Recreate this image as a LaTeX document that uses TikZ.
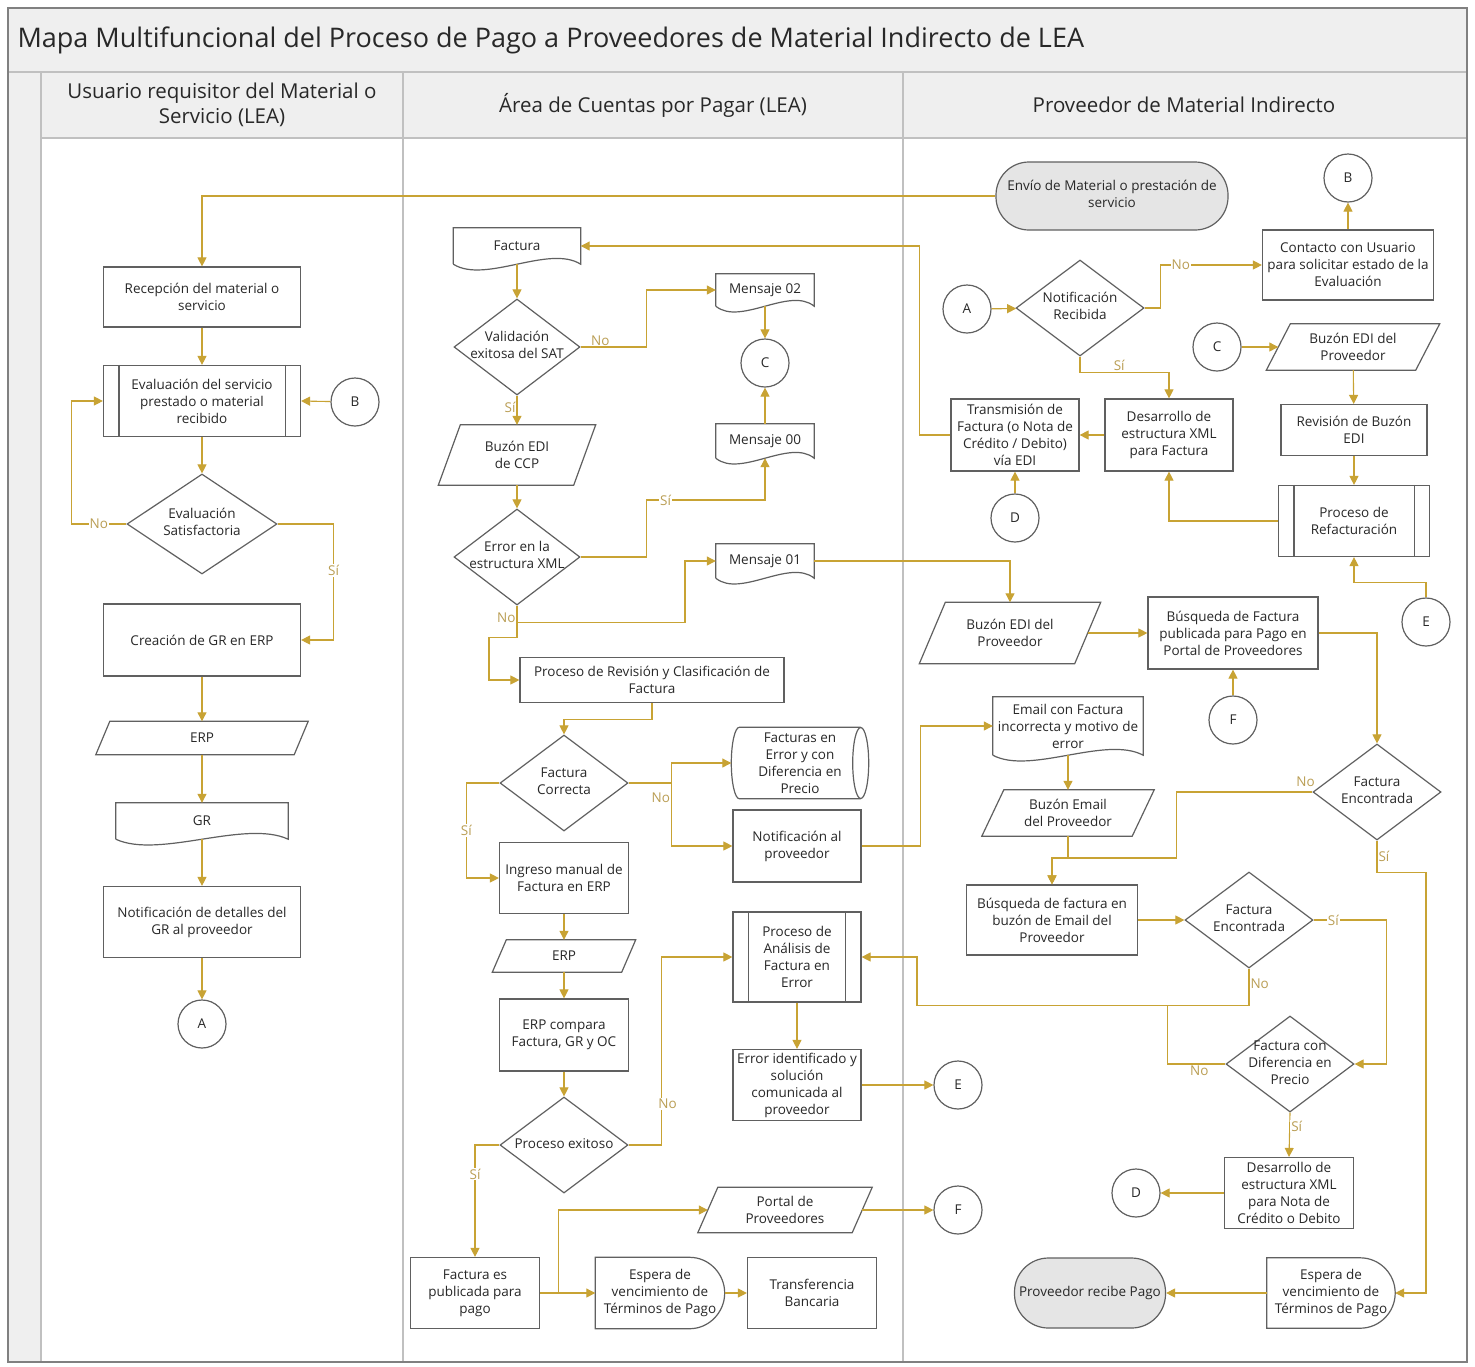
\documentclass[tikz,border=0pt]{standalone}
\usepackage{fontspec}
\setmainfont{Open Sans}
\usetikzlibrary{positioning,arrows.meta,shapes.geometric,calc}

\definecolor{linkgold}{RGB}{200,163,52}
\definecolor{lblgold}{RGB}{186,158,84}
\definecolor{boxgray}{RGB}{96,96,96}
\definecolor{bandgray}{RGB}{239,239,239}
\definecolor{framegray}{RGB}{192,192,192}
\definecolor{termgray}{RGB}{229,229,229}
\definecolor{txtgray}{RGB}{40,40,40}

\tikzset{
  shapeline/.style={draw=boxgray, line width=1.2pt},
  base/.style={font=\fontsize{13.5}{17}\selectfont, text=txtgray, align=center, inner sep=1.5pt},
  box/.style={base, shapeline, rectangle, minimum width=128, minimum height=71},
  plain/.style={base, rectangle, minimum width=128, minimum height=71},
  decision/.style={base, shapeline, diamond, minimum width=128, minimum height=96, inner sep=0pt},
  jump/.style={base, shapeline, circle, minimum size=48, inner sep=0pt},
  term/.style={base, shapeline, fill=termgray, rounded corners=33pt, minimum width=232, minimum height=68},
  link/.style={draw=linkgold, line width=1.1pt},
  conn/.style={link, ->},
  lbl/.style={font=\fontsize{13.5}{16}\selectfont, text=lblgold, fill=white, inner sep=1pt},
  header/.style={font=\fontsize{20.5}{25}\selectfont, text=txtgray, align=center}
}

% text that may overflow its shape (diamonds, terminators)
\newcommand{\dtext}[1]{\makebox[0pt]{\begin{tabular}{@{}c@{}}#1\end{tabular}}}
% document shape (wavy base)
\newcommand{\docshape}[1]{\draw[shapeline] (#1.south west) -- (#1.north west) -- (#1.north east) -- (#1.south east)
  .. controls ($(#1.south)!0.5!(#1.south east)+(0,-20)$) and ($(#1.south west)!0.5!(#1.south)+(0,20)$) .. (#1.south west);}
% predefined process bars
\newcommand{\subbars}[1]{\draw[shapeline] ($(#1.north west)+(16,0)$) -- ($(#1.south west)+(16,0)$)
  ($(#1.north east)+(-16,0)$) -- ($(#1.south east)+(-16,0)$);}
% data (parallelogram)
\newcommand{\parashape}[2]{\draw[shapeline] ($(#1.north west)+(#2,0)$) -- (#1.north east)
  -- ($(#1.south east)+(-#2,0)$) -- (#1.south west) -- cycle;}
% delay
\newcommand{\delayshape}[1]{\draw[shapeline] (#1.north west) -- ($(#1.north east)+(-35,0)$)
  .. controls ($(#1.north east)+(-15.7,0)$) and ($(#1.east)+(0,-19.3)$) .. (#1.east)
  .. controls ($(#1.east)+(0,19.3)$) and ($(#1.south east)+(-15.7,0)$) .. ($(#1.south east)+(-35,0)$)
  -- (#1.south west) -- cycle;}
% direct data (lying drum)
\newcommand{\drumshape}[2]{\draw[shapeline] ($(#1.north east)+(-8,0)$) -- ($(#1.north west)+(8,0)$)
  .. controls ($(#1.north west)+(3.6,0)$) and ($(#1.west)+(0,-0.55*#2)$) .. (#1.west)
  .. controls ($(#1.west)+(0,0.55*#2)$) and ($(#1.south west)+(3.6,0)$) .. ($(#1.south west)+(8,0)$)
  -- ($(#1.south east)+(-8,0)$);
  \draw[shapeline] ($(#1.east)+(-8,0)$) ellipse [x radius=8pt, y radius=#2pt];}

\begin{document}
\begin{tikzpicture}[x=1pt, y=-1pt, >={Triangle[length=9pt,width=9pt]}]
\useasboundingbox (0,0) rectangle (1475,1366);
\fill[white] (0,0) rectangle (1475,1366);

% frame and lanes
\fill[bandgray] (8,8) rectangle (1467,72);
\fill[bandgray] (8,72) rectangle (41,1362);
\fill[bandgray] (41,72) rectangle (1467,138);
\draw[framegray, line width=1.2pt] (8,72) -- (1467,72) (41,138) -- (1467,138)
  (41,72) -- (41,1362) (403,72) -- (403,1362) (903,72) -- (903,1362);
\draw[boxgray!80, line width=1.2pt] (8,8) rectangle (1467,1362);

\node[anchor=west, font=\fontsize{27}{32}\selectfont, text=txtgray] (title) at (14,40)
  {Mapa Multifuncional del Proceso de Pago a Proveedores de Material Indirecto de LEA};
\node[header] (hd1) at (222,105) {Usuario requisitor del Material o\\Servicio (LEA)};
\node[header] (hd2) at (653,105) {Área de Cuentas por Pagar (LEA)};
\node[header] (hd3) at (1184,105) {Proveedor de Material Indirecto};

% lane 1: usuario requisitor
\node[box, minimum width=197, minimum height=60] (rec) at (202,297) {Recepción del material o\\servicio};
\node[box, minimum width=197] (eval) at (202,401) {Evaluación del servicio\\prestado o material\\recibido};
\node[jump] (jB1) at (355,402) {B};
\node[decision, minimum width=150, minimum height=100] (evsat) at (202,524) {\dtext{Evaluación\\Satisfactoria}};
\node[box, minimum width=197, minimum height=72] (grERP) at (202,640) {Creación de GR en ERP};
\node[plain, minimum width=212, minimum height=33] (erp1) at (202,738) {ERP};
\node[plain, minimum width=172, minimum height=36] (grdoc) at (202,821) {GR};
\node[box, minimum width=197] (notif) at (202,922) {Notificación de detalles del\\GR al proveedor};
\node[jump] (jA1) at (202,1024) {A};

% lane 2: cuentas por pagar
\node[plain, minimum width=127, minimum height=36] (fact) at (517,246) {Factura};
\node[decision, minimum width=126] (val) at (517,347) {\dtext{Validación\\exitosa del SAT}};
\node[plain, minimum width=98, minimum height=32] (m02) at (765,290) {Mensaje 02};
\node[jump] (jC1) at (765,363) {C};
\node[plain, minimum width=98, minimum height=34] (m00) at (765,441) {Mensaje 00};
\node[plain, minimum width=157, minimum height=60] (bccp) at (517,455) {Buzón EDI\\de CCP};
\node[decision, minimum width=126] (err) at (517,557) {\dtext{Error en la\\estructura XML}};
\node[plain, minimum width=98, minimum height=34] (m01) at (765,561) {Mensaje 01};
\node[box, minimum width=264, minimum height=45] (rev) at (652,680) {Proceso de Revisión y Clasificación de\\Factura};
\node[decision] (fc) at (564,783) {\dtext{Factura\\Correcta}};
\node[plain, minimum width=137] (fe) at (800,763) {Facturas en\\Error y con\\Diferencia en\\Precio};
\node[box, minimum height=72] (notprov) at (797,846) {Notificación al\\proveedor};
\node[box, minimum width=129] (ing) at (564,878) {Ingreso manual de\\Factura en ERP};
\node[plain, minimum width=143, minimum height=32] (erp2) at (564,956) {ERP};
\node[box, minimum width=129, minimum height=72] (cmp) at (564,1035) {ERP compara\\Factura, GR y OC};
\node[decision] (pex) at (564,1145) {\dtext{Proceso exitoso}};
\node[box, minimum height=90] (pa) at (797,957) {Proceso de\\Análisis de\\Factura en\\Error};
\node[box] (eid) at (797,1085) {Error identificado y\\solución\\comunicada al\\proveedor};
\node[jump] (jE1) at (958,1085) {E};
\node[box, minimum width=129] (fpub) at (475,1293) {Factura es\\publicada para\\pago};
\node[plain, minimum width=174, minimum height=45] (portal) at (785,1210) {Portal de\\Proveedores};
\node[jump] (jF1) at (958,1210) {F};
\node[plain, minimum width=129] (esp1) at (660,1293) {Espera de\\vencimiento de\\Términos de Pago};
\node[box, minimum width=129] (transf) at (812,1293) {Transferencia\\Bancaria};

% lane 3: proveedor
\node[term] (envio) at (1112,196) {\dtext{Envío de Material o prestación de\\servicio}};
\node[jump] (jB2) at (1348,178) {B};
\node[box, minimum width=171, minimum height=70] (contacto) at (1348,265) {Contacto con Usuario\\para solicitar estado de la\\Evaluación};
\node[jump] (jA2) at (967,309) {A};
\node[decision] (notr) at (1080,308) {\dtext{Notificación\\Recibida}};
\node[jump] (jC2) at (1217,347) {C};
\node[plain, minimum width=173, minimum height=46] (bedi1) at (1353,347) {Buzón EDI del\\Proveedor};
\node[box, minimum width=146, minimum height=51] (revb) at (1354,430) {Revisión de Buzón\\EDI};
\node[box, minimum width=151] (refact) at (1354,521) {Proceso de\\Refacturación};
\node[box, minimum height=72] (desxml) at (1169,435) {Desarrollo de\\estructura XML\\para Factura};
\node[box, minimum height=72] (trans) at (1015,435) {Transmisión de\\Factura (o Nota de\\Crédito / Debito)\\vía EDI};
\node[jump] (jD1) at (1015,518) {D};
\node[jump] (jE2) at (1426,622) {E};
\node[plain, minimum width=181, minimum height=61] (bedi2) at (1010,633) {Buzón EDI del\\Proveedor};
\node[box, minimum width=170, minimum height=72] (busq) at (1233,633) {Búsqueda de Factura\\publicada para Pago en\\Portal de Proveedores};
\node[jump] (jF2) at (1233,720) {F};
\node[decision] (fe2) at (1377,792) {\dtext{Factura\\Encontrada}};
\node[plain, minimum width=150, minimum height=58] (email) at (1068,726) {Email con Factura\\incorrecta y motivo de\\error};
\node[plain, minimum width=172, minimum height=46] (bemail) at (1068,813) {Buzón Email\\del Proveedor};
\node[box, minimum width=171, minimum height=70] (bfe) at (1052,920) {Búsqueda de factura en\\buzón de Email del\\Proveedor};
\node[decision] (fe3) at (1249,920) {\dtext{Factura\\Encontrada}};
\node[decision] (fdp) at (1290,1064) {\dtext{Factura con\\Diferencia en\\Precio}};
\node[box, minimum width=129] (desxml2) at (1289,1193) {Desarrollo de\\estructura XML\\para Nota de\\Crédito o Debito};
\node[jump] (jD2) at (1136,1193) {D};
\node[plain, minimum height=70] (esp2) at (1331,1293) {Espera de\\vencimiento de\\Términos de Pago};
\node[term, minimum width=151, minimum height=70, rounded corners=34pt] (recibe) at (1090,1293) {\dtext{Proveedor recibe Pago}};

% special outlines
\subbars{eval} \subbars{pa} \subbars{refact}
\docshape{grdoc} \docshape{fact} \docshape{m02} \docshape{m00} \docshape{m01} \docshape{email}
\parashape{erp1}{14} \parashape{bccp}{22} \parashape{erp2}{14} \parashape{portal}{20}
\parashape{bedi1}{24} \parashape{bedi2}{26} \parashape{bemail}{22}
\delayshape{esp1} \delayshape{esp2}
\drumshape{fe}{35.5}

% connectors lane 1
\draw[conn] (envio.west) -| (rec.north);
\draw[conn] (rec) -- (eval);
\draw[conn] (jB1) -- (eval.east);
\draw[conn] (eval) -- (evsat);
\draw[conn] (evsat.west) -- node[lbl]{No} ++(-55,0) |- (eval.west);
\draw[conn] (evsat.east) -- ++(56,0) |- node[lbl, pos=0.2]{Sí} (grERP.east);
\draw[conn] (grERP) -- (erp1);
\draw[conn] (erp1) -- (grdoc);
\draw[conn] (grdoc.south) -- (notif);
\draw[conn] (notif) -- (jA1);

% connectors lane 2
\draw[conn] (trans.west) -- ++(-31,0) |- (fact.east);
\draw[conn] (fact.south) -- (val.north);
\draw[conn] (val.east) -- node[lbl, above, pos=0.3]{No} ++(66,0) |- (m02.west);
\draw[conn] (m02.south) -- (jC1.north);
\draw[conn] (m00.north) -- (jC1.south);
\draw[conn] (val.south) -- node[lbl, left, pos=0.4]{Sí} (bccp.north);
\draw[conn] (bccp) -- (err);
\draw[conn] (err.east) -- ++(66,0) -- ++(0,-57) -| node[lbl, pos=0.08]{Sí} (m00.south);
\draw[conn] (err.south) -- node[lbl, left, pos=0.7]{No} ++(0,17) -- ++(168,0) |- (m01.west);
\draw[conn] (err.south) -- ++(0,32) -- ++(-28,0) |- (rev.west);
\draw[conn] (m01.east) -| (bedi2.north);
\draw[conn] (rev.south) -- ++(0,16) -| (fc.north);
\draw[conn] (fc.east) -- ++(43,0) |- (fe.west);
\draw[conn] (fc.east) -- ++(43,0) |- node[lbl, left, pos=0.12]{No} (notprov.west);
\draw[conn] (fc.west) -- ++(-33,0) |- node[lbl, pos=0.25]{Sí} (ing.west);
\draw[conn] (ing) -- (erp2);
\draw[conn] (erp2) -- (cmp);
\draw[conn] (cmp) -- (pex);
\draw[conn] (pex.east) -- ++(33,0) |- node[lbl, pos=0.11, xshift=6]{No} (pa.west);
\draw[conn] (pa) -- (eid);
\draw[conn] (eid) -- (jE1);
\draw[conn] (pex.west) -| node[lbl, pos=0.63]{Sí} (fpub.north);
\draw[conn] (fpub) -- (esp1);
\draw[conn] (fpub.east) -- ++(18,0) |- ([xshift=10]portal.west);
\draw[conn] ([xshift=-10]portal.east) -- (jF1);
\draw[conn] (esp1) -- (transf);

% connectors lane 3
\draw[conn] (contacto) -- (jB2);
\draw[conn] (jA2) -- (notr);
\draw[conn] (notr.east) -- ++(16,0) |- node[lbl, pos=0.6]{No} (contacto.west);
\draw[conn] (notr.south) -- ++(0,16) -| node[lbl, above, pos=0.22]{Sí} (desxml.north);
\draw[conn] (jC2) -- ([xshift=12]bedi1.west);
\draw[conn] (bedi1) -- (revb);
\draw[conn] (revb) -- (refact);
\draw[conn] (refact.west) -| (desxml.south);
\draw[conn] (desxml) -- (trans);
\draw[conn] (jD1) -- (trans);
\draw[conn] (jE2.north) -- ++(0,-15) -| (refact.south);
\draw[conn] ([xshift=-13]bedi2.east) -- (busq.west);
\draw[conn] (jF2) -- (busq);
\draw[conn] (busq.east) -| (fe2.north);
\draw[conn] (notprov.east) -- ++(59,0) |- (email.west);
\draw[conn] (email.south) -- (bemail.north);
\draw[conn] (bemail.south) -- ++(0,22) -| (bfe.north);
\draw[conn] (fe2.west) -- node[lbl, above, pos=0.05, yshift=4]{No} ++(-136,0) -- ++(0,66) -| (bfe.north);
\draw[conn] (fe2.south) -- node[lbl, right, pos=0.5]{Sí} ++(0,32) -- ++(49,0) |- (esp2.east);
\draw[conn] (bfe) -- (fe3);
\draw[conn] (fe3.east) -- node[lbl, pos=0.27]{Sí} ++(73,0) |- (fdp.east);
\draw[conn] (fe3.south) -- node[lbl, right, pos=0.4]{No} ++(0,37) -- ++(-332,0) |- (pa.east);
\draw[link] (fdp.west) -- node[lbl, below, pos=0.45]{No} ++(-58,0) -- ++(0,-59);
\draw[conn] (fdp.south) -- node[lbl, right, pos=0.3]{Sí} (desxml2.north);
\draw[conn] (desxml2) -- (jD2);
\draw[conn] (esp2) -- (recibe);
\end{tikzpicture}
\end{document}
